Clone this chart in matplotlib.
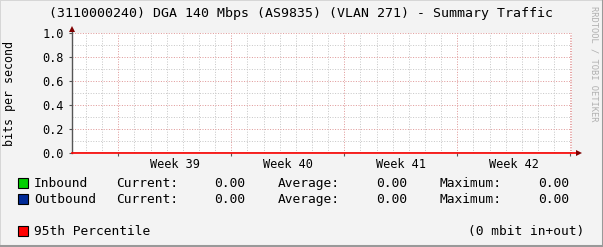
import numpy as np
import matplotlib.pyplot as plt
from matplotlib.patches import Rectangle

# data (all traffic is zero for this period)
days = np.arange(0, 32)
inbound = np.zeros(len(days))
outbound = np.zeros(len(days))
pct95 = 0.0
week_labels = ["Week 39", "Week 40", "Week 41", "Week 42"]
yticks = [0.0, 0.2, 0.4, 0.6, 0.8, 1.0]
first_midnight = 0.87   # day offset of first day line
first_week = 2.87       # day offset of first week line
span = 30.98

W, H = 603, 247
mono = "DejaVu Sans Mono"
bg = "#f3f3f3"


def fx(px):
    return px / W


def fy(py):
    return 1 - py / H


fig = plt.figure(figsize=(W / 100, H / 100), dpi=100, facecolor=bg)
ax = fig.add_axes([fx(72), fy(153), 500 / W, 120 / H], facecolor="white")
ax.set_xlim(0, span)
ax.set_ylim(0, 1.0)

# grid
dots = (0, (1, 1.6))
week_pos = np.arange(first_week, span, 7.0)
for d in np.arange(first_midnight, span, 1.0):
    if np.min(np.abs(week_pos - d)) > 0.1:
        ax.axvline(d, color="#c8c8c8", lw=0.72, ls=dots, zorder=1)
for y in np.arange(0.1, 1.01, 0.2):
    ax.axhline(y, color="#c8c8c8", lw=0.72, ls=dots, zorder=1)
for d in week_pos:
    ax.axvline(d, color="#e09a9a", lw=0.72, ls=dots, zorder=2)
ax.axvline(span - 0.05, color="#e09a9a", lw=0.72, ls=dots, zorder=2)
for y in yticks[1:]:
    ax.axhline(y, color="#e09a9a", lw=0.72, ls=dots, zorder=2)

# series
ax.plot(days, inbound, color="#00cf00", lw=1, zorder=3)
ax.plot(days, outbound, color="#002a97", lw=1, zorder=3)

for s in ax.spines.values():
    s.set_visible(False)

# axes with arrows
ax.plot([0, 0], [0, 1.03], color="#555555", lw=1, clip_on=False, zorder=4)
ax.plot([0, span + 0.35], [pct95, pct95], color="#ff0000", lw=1.2,
        clip_on=False, zorder=5)
ax.plot([0], [1.035], marker="^", ms=5, color="#7f0000", clip_on=False,
        zorder=6, mew=0)
ax.plot([span + 0.45], [0], marker=">", ms=5, color="#7f0000", clip_on=False,
        zorder=6, mew=0)

ax.set_yticks(yticks)
ax.set_yticklabels(["%.1f" % v for v in yticks], family=mono, fontsize=8.6)
ax.tick_params(axis="y", length=2, width=0.8, color="#555555", pad=4)
ax.set_xticks(week_pos)
ax.set_xticklabels([])
ax.tick_params(axis="x", length=2, width=0.8, color="#555555")
ax.set_xticks((week_pos + 3.5)[:len(week_labels)], week_labels, minor=True,
              family=mono, fontsize=8.6)
ax.tick_params(axis="x", which="minor", length=0, pad=3.5)

fig.text(fx(301), fy(14), "(3110000240) DGA 140 Mbps (AS9835) (VLAN 271) - Summary Traffic",
         family=mono, fontsize=9.5, ha="center", va="center")
fig.text(fx(10), fy(93), "bits per second", family=mono, fontsize=8.4,
         rotation=90, ha="center", va="center")
fig.text(fx(594), fy(6), "RRDTOOL / TOBI OETIKER", family=mono, fontsize=6.3,
         rotation=270, ha="center", va="top", color="#b0b0b0")

# legend
rows = [("Inbound", "#00cf00", inbound, 183.5), ("Outbound", "#002a97", outbound, 199.5)]
for name, col, vals, y in rows:
    fig.patches.append(Rectangle((fx(17.5), fy(y + 4.5)), 10 / W, 10 / H,
                                 transform=fig.transFigure, facecolor=col,
                                 edgecolor="black", lw=0.8))
    fig.text(fx(34), fy(y), name, family=mono, fontsize=9.3, va="center")
    fig.text(fx(116), fy(y), "Current:", family=mono, fontsize=9.3, va="center")
    fig.text(fx(245), fy(y), "%.2f" % vals[-1], family=mono, fontsize=9.3,
             va="center", ha="right")
    fig.text(fx(278), fy(y), "Average:", family=mono, fontsize=9.3, va="center")
    fig.text(fx(407), fy(y), "%.2f" % vals.mean(), family=mono, fontsize=9.3,
             va="center", ha="right")
    fig.text(fx(440), fy(y), "Maximum:", family=mono, fontsize=9.3, va="center")
    fig.text(fx(569), fy(y), "%.2f" % vals.max(), family=mono, fontsize=9.3,
             va="center", ha="right")

fig.patches.append(Rectangle((fx(17.5), fy(231.5 + 4.5)), 10 / W, 10 / H,
                             transform=fig.transFigure, facecolor="#ff0000",
                             edgecolor="black", lw=0.8))
fig.text(fx(34), fy(231.5), "95th Percentile", family=mono, fontsize=9.3, va="center")
fig.text(fx(584), fy(231.5), "(%d mbit in+out)" % pct95, family=mono, fontsize=9.3,
         va="center", ha="right")

# 3d frame
fig.add_artist(plt.Line2D([0, 0, 1], [0, 1, 1], transform=fig.transFigure,
                          color="#d6d6d6", lw=1.4))
fig.add_artist(plt.Line2D([0, 1, 1], [0.004, 0.004, 1], transform=fig.transFigure,
                          color="#999999", lw=2.2))

fig.savefig("out.png", dpi=100, facecolor=bg)
